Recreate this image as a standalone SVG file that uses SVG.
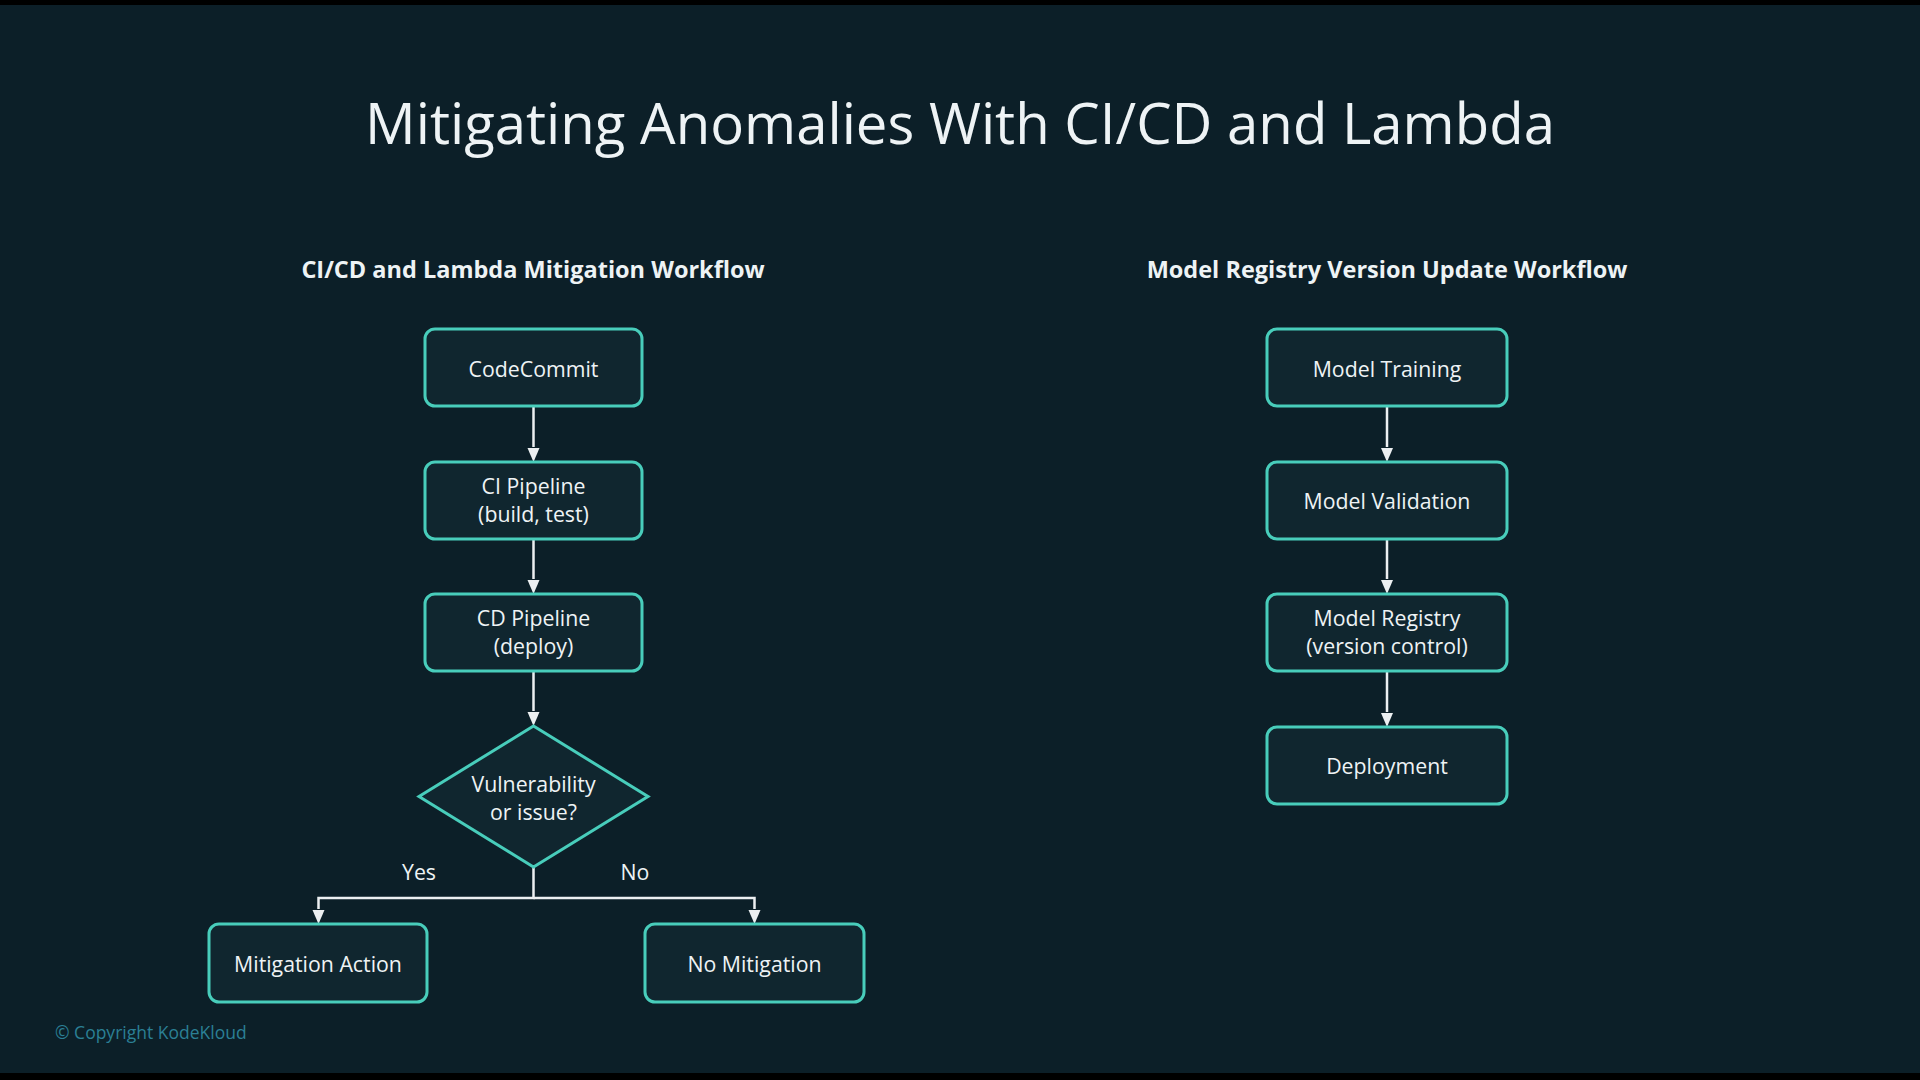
<svg xmlns="http://www.w3.org/2000/svg" width="1920" height="1080" viewBox="0 0 1920 1080">
<defs>
<style>
.bg{fill:#0c1f28}
.box{fill:#10262f;stroke:#48cdbb;stroke-width:3}
.t{font-family:"Open Sans","Noto Sans","Liberation Sans",sans-serif;fill:#eef3f5;text-anchor:middle}
.nt{font-size:21.3px}
.sub{font-size:23.5px;font-weight:bold}
.title{font-size:56.3px}
.edge{stroke:#eceff1;stroke-width:2.5;fill:none}
.head{fill:#eceff1}
.copy{font-family:"Open Sans","Noto Sans","Liberation Sans",sans-serif;font-size:17.5px;fill:#2b7f95}
</style>
</defs>
<rect x="0" y="0" width="1920" height="1080" class="bg"/>
<rect x="0" y="0" width="1920" height="5" fill="#000"/>
<rect x="0" y="1073" width="1920" height="7" fill="#000"/>

<text class="t title" x="960" y="144">Mitigating Anomalies With CI/CD and Lambda</text>
<text class="t sub" x="533" y="278">CI/CD and Lambda Mitigation Workflow</text>
<text class="t sub" x="1387" y="278">Model Registry Version Update Workflow</text>

<g id="connectors">
<line class="edge" x1="533.5" y1="407" x2="533.5" y2="447"/>
<path class="head" d="M527.5,448 L539.5,448 L533.5,462 Z"/>
<line class="edge" x1="533.5" y1="540" x2="533.5" y2="579"/>
<path class="head" d="M527.5,580 L539.5,580 L533.5,594 Z"/>
<line class="edge" x1="533.5" y1="672" x2="533.5" y2="711"/>
<path class="head" d="M527.5,712 L539.5,712 L533.5,726 Z"/>
<polyline class="edge" points="533.5,867 533.5,898 318.5,898 318.5,909"/>
<path class="head" d="M312.5,910 L324.5,910 L318.5,924 Z"/>
<polyline class="edge" points="533.5,898 754.5,898 754.5,909"/>
<path class="head" d="M748.5,910 L760.5,910 L754.5,924 Z"/>
<line class="edge" x1="1387" y1="407" x2="1387" y2="447"/>
<path class="head" d="M1381,448 L1393,448 L1387,462 Z"/>
<line class="edge" x1="1387" y1="540" x2="1387" y2="579"/>
<path class="head" d="M1381,580 L1393,580 L1387,594 Z"/>
<line class="edge" x1="1387" y1="672" x2="1387" y2="712"/>
<path class="head" d="M1381,713 L1393,713 L1387,727 Z"/>
<text class="t nt" x="419" y="880">Yes</text>
<text class="t nt" x="635" y="880">No</text>
</g>

<g id="codecommit">
<rect class="box" x="425" y="329" width="217" height="77" rx="10"/>
<text class="t nt" x="533.5" y="376.5">CodeCommit</text>
</g>
<g id="ci-pipeline">
<rect class="box" x="425" y="462" width="217" height="77" rx="10"/>
<text class="t nt" x="533.5" y="493.5">CI Pipeline</text>
<text class="t nt" x="533.5" y="521.5">(build, test)</text>
</g>
<g id="cd-pipeline">
<rect class="box" x="425" y="594" width="217" height="77" rx="10"/>
<text class="t nt" x="533.5" y="625.5">CD Pipeline</text>
<text class="t nt" x="533.5" y="653.5">(deploy)</text>
</g>
<g id="decision">
<polygon class="box" points="533.5,726 648,796.5 533.5,867 419,796.5"/>
<text class="t nt" x="533.5" y="792">Vulnerability</text>
<text class="t nt" x="533.5" y="820">or issue?</text>
</g>
<g id="mitigation-action">
<rect class="box" x="209" y="924" width="218" height="78" rx="10"/>
<text class="t nt" x="318" y="972">Mitigation Action</text>
</g>
<g id="no-mitigation">
<rect class="box" x="645" y="924" width="219" height="78" rx="10"/>
<text class="t nt" x="754.5" y="972">No Mitigation</text>
</g>

<g id="model-training">
<rect class="box" x="1267" y="329" width="240" height="77" rx="10"/>
<text class="t nt" x="1387" y="376.5">Model Training</text>
</g>
<g id="model-validation">
<rect class="box" x="1267" y="462" width="240" height="77" rx="10"/>
<text class="t nt" x="1387" y="508.5">Model Validation</text>
</g>
<g id="model-registry">
<rect class="box" x="1267" y="594" width="240" height="77" rx="10"/>
<text class="t nt" x="1387" y="625.5">Model Registry</text>
<text class="t nt" x="1387" y="653.5">(version control)</text>
</g>
<g id="deployment">
<rect class="box" x="1267" y="727" width="240" height="77" rx="10"/>
<text class="t nt" x="1387" y="773.5">Deployment</text>
</g>

<text class="copy" x="55" y="1039">© Copyright KodeKloud</text>
</svg>
